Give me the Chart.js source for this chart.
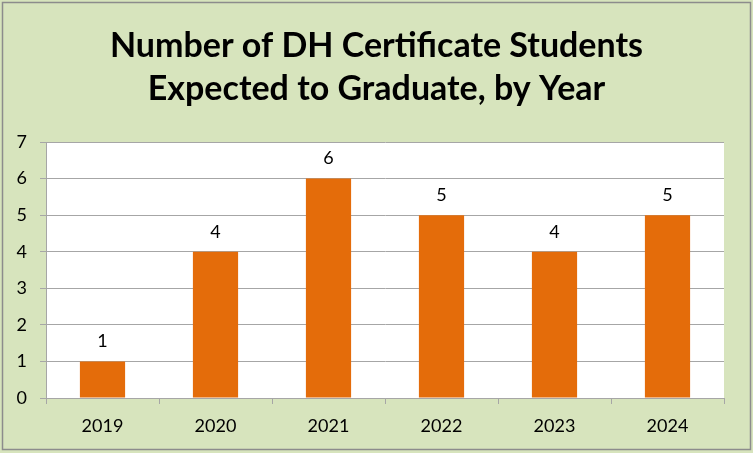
<!DOCTYPE html>
<html><head><meta charset="utf-8">
<script src="https://cdn.jsdelivr.net/npm/chart.js@4"></script>
<style>html,body{margin:0;padding:0;background:#fff}#wrap{width:753px;height:453px}</style>
</head><body><div id="wrap"><canvas id="c" width="753" height="453"></canvas></div>
<script>
const categories = ["2019","2020","2021","2022","2023","2024"];
const students = [1,4,6,5,4,5];
const titleLines = ["Number of DH Certificate Students","Expected to Graduate, by Year"];
const yTicks = [0,1,2,3,4,5,6,7];

const FONT = "Lato, 'Open Sans', sans-serif";

const bgPlugin = {
  id:'bg',
  beforeDraw(chart){
    const ctx = chart.ctx;
    ctx.save();
    ctx.fillStyle = '#d7e4bd';
    ctx.fillRect(0,0,chart.width,chart.height);
    ctx.strokeStyle = '#8c8c8c';
    ctx.lineWidth = 1.5;
    ctx.strokeRect(2.5,2.5,chart.width-5,chart.height-6);
    const a = chart.chartArea;
    ctx.fillStyle = '#ffffff';
    ctx.fillRect(a.left,a.top,a.right-a.left,a.bottom-a.top);
    ctx.restore();
  }
};
const labelPlugin = {
  id:'vals',
  afterDatasetsDraw(chart){
    const ctx = chart.ctx;
    const meta = chart.getDatasetMeta(0);
    ctx.save();
    ctx.font = "18px " + FONT;
    ctx.fillStyle = '#000';
    ctx.textAlign = 'center';
    ctx.textBaseline = 'middle';
    meta.data.forEach((el,i)=>{
      ctx.fillText(String(students[i]), el.x, el.y - 20);
    });
    ctx.restore();
  }
};

new Chart(document.getElementById('c'),{
  type:'bar',
  data:{labels:categories,datasets:[{data:students,backgroundColor:'#e46c0a',borderWidth:0,categoryPercentage:0.4,barPercentage:1}]},
  options:{
    responsive:false,animation:false,
    layout:{padding:{top:0,right:0,bottom:0,left:0}},
    plugins:{
      legend:{display:false},tooltip:{enabled:false},
      title:{display:true,text:titleLines,color:'#000',font:{family:FONT,size:34,weight:'bold',lineHeight:1.265},padding:{top:25,bottom:31}}
    },
    scales:{
      x:{
        grid:{offset:true,drawOnChartArea:false,drawTicks:true,tickLength:6,color:'#a6a6a6'},
        border:{color:'#a6a6a6',width:1},
        ticks:{color:'#000',font:{family:FONT,size:18},padding:11},
        afterFit(s){s.height = 453-398;}
      },
      y:{
        min:0,max:7,
        afterBuildTicks(s){s.ticks = yTicks.map(v=>({value:v}));},
        grid:{color:'#a6a6a6',tickLength:6,drawTicks:true},
        border:{color:'#a6a6a6',width:1},
        ticks:{color:'#000',font:{family:FONT,size:18},padding:13},
        afterFit(s){s.width = 46;}
      },
      yr:{
        position:'right',min:0,max:7,
        grid:{display:false,drawTicks:false},
        border:{display:false},
        ticks:{display:false},
        afterFit(s){s.width = 29;}
      }
    }
  },
  plugins:[bgPlugin,labelPlugin]
});
</script></body></html>
